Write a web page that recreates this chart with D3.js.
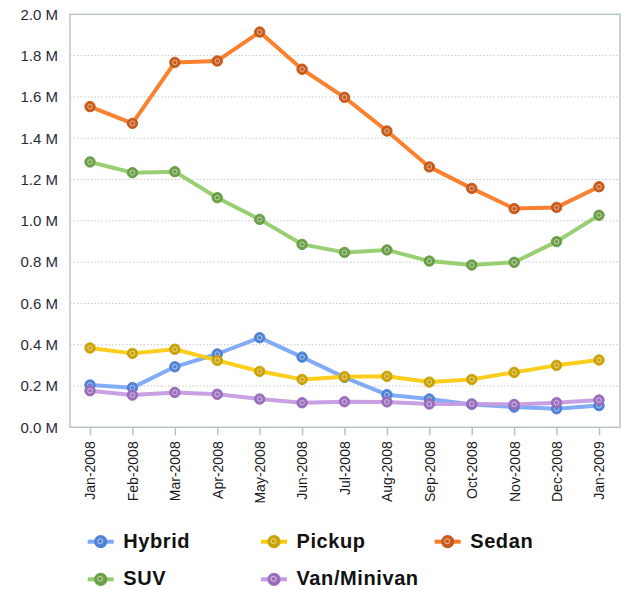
<!DOCTYPE html>
<html><head><meta charset="utf-8">
<script src="https://cdn.jsdelivr.net/npm/d3@7"></script>
<style>
html,body{margin:0;padding:0;background:#fff;}
svg{display:block;font-family:"Liberation Sans",Arial,sans-serif;}
</style></head>
<body><svg id="chart" width="621" height="590"></svg>
<script>
const months = ["Jan-2008","Feb-2008","Mar-2008","Apr-2008","May-2008","Jun-2008","Jul-2008","Aug-2008","Sep-2008","Oct-2008","Nov-2008","Dec-2008","Jan-2009"];
const seriesNames = ["Hybrid","Pickup","Sedan","SUV","Van/Minivan"];
const hybrid = [0.205,0.192,0.293,0.355,0.434,0.340,0.242,0.158,0.137,0.111,0.098,0.090,0.105];
const pickup = [0.384,0.358,0.378,0.324,0.271,0.232,0.245,0.247,0.219,0.232,0.266,0.300,0.326];
const sedan  = [1.553,1.472,1.767,1.774,1.914,1.734,1.598,1.435,1.261,1.157,1.059,1.065,1.165];
const suv    = [1.285,1.233,1.238,1.112,1.007,0.886,0.847,0.859,0.805,0.786,0.799,0.899,1.027];
const van    = [0.177,0.156,0.169,0.160,0.137,0.119,0.124,0.123,0.113,0.113,0.111,0.119,0.132];
const yTicks = [0,0.2,0.4,0.6,0.8,1.0,1.2,1.4,1.6,1.8,2.0];
const lineColors = ["#7ba8f6","#fbcb12","#fa7a25","#93cc6b","#c59be2"];
const markColors = ["#4f82d6","#caa206","#c85a1c","#6c9e48","#9b6dbd"];

const seriesData = [hybrid,pickup,sedan,suv,van];
const svg = d3.select("#chart");
const L=70, R=620, T=14.3, B=427.3;

const x = d3.scalePoint().domain(months).range([90,599]);
const y = d3.scaleLinear().domain([0,2]).range([B,T]);

// gridlines
svg.append("g").selectAll("line").data(yTicks.filter(d=>d>0&&d<2)).join("line")
  .attr("x1",L).attr("x2",R).attr("y1",d=>y(d)).attr("y2",d=>y(d))
  .attr("stroke","#c8c8c8").attr("stroke-width",1).attr("stroke-dasharray","1.5,2");

// frame
svg.append("rect").attr("x",L).attr("y",T).attr("width",R-L).attr("height",B-T)
  .attr("fill","none").attr("stroke","#b8c4c6").attr("stroke-width",1.5);

// y axis
const yAxis = d3.axisLeft(y).tickValues(yTicks).tickSize(0).tickPadding(12)
  .tickFormat(d=>d3.format(".1f")(d)+" M");
const gy = svg.append("g").attr("transform",`translate(${L},0)`).call(yAxis);
gy.select(".domain").remove();
gy.selectAll("text").attr("font-size",15).attr("fill","#2a2a3a").attr("font-family","'Liberation Sans',Arial,sans-serif");

// x axis
const xAxis = d3.axisBottom(x).tickSize(8).tickPadding(6);
const gx = svg.append("g").attr("transform",`translate(0,${B})`).call(xAxis);
gx.select(".domain").remove();
gx.selectAll(".tick line").attr("stroke","#b8c4c6").attr("stroke-width",1.5);
gx.selectAll("text").attr("font-size",14).attr("fill","#1a1a1a")
  .attr("font-family","'Liberation Sans',Arial,sans-serif")
  .attr("transform","rotate(-90)").attr("text-anchor","end")
  .attr("x",-14).attr("y",0).attr("dy","0.35em");

// lines
const line = d3.line().x((d,i)=>x(months[i])).y(d=>y(d));
seriesData.forEach((vals,k)=>{
  svg.append("path").datum(vals).attr("d",line).attr("fill","none")
    .attr("stroke",lineColors[k]).attr("stroke-width",4).attr("stroke-opacity",0.95)
    .attr("stroke-linejoin","round");
});
// markers
function marker(g,cx,cy,k){
  g.append("circle").attr("cx",cx).attr("cy",cy).attr("r",5.2)
    .attr("fill",markColors[k]).attr("stroke",markColors[k]).attr("stroke-width",1);
  g.append("circle").attr("cx",cx).attr("cy",cy).attr("r",2.3)
    .attr("fill","none").attr("stroke","#ffffff").attr("stroke-opacity",0.55).attr("stroke-width",1);
}
seriesData.forEach((vals,k)=>{
  const g = svg.append("g");
  vals.forEach((v,i)=>marker(g,x(months[i]),y(v),k));
});

// legend
const legPos = [[100.7,541.7],[274,541.7],[447.7,541.7],[100.7,579.3],[274,579.3]];
seriesNames.forEach((name,k)=>{
  const [cx,cy]=legPos[k];
  svg.append("line").attr("x1",cx-13).attr("x2",cx+13).attr("y1",cy).attr("y2",cy)
    .attr("stroke",lineColors[k]).attr("stroke-width",4);
  const g = svg.append("g");
  g.append("circle").attr("cx",cx).attr("cy",cy).attr("r",6)
    .attr("fill",markColors[k]).attr("stroke",markColors[k]).attr("stroke-width",1.2);
  g.append("circle").attr("cx",cx-0.5).attr("cy",cy-0.5).attr("r",2.5)
    .attr("fill","none").attr("stroke","#ffffff").attr("stroke-opacity",0.6).attr("stroke-width",1);
  svg.append("text").attr("x",cx+22.5).attr("y",cy+6).text(name)
    .attr("font-size",20).attr("font-weight","bold").attr("fill","#111")
    .attr("letter-spacing","0.6px");
});
</script></body></html>
